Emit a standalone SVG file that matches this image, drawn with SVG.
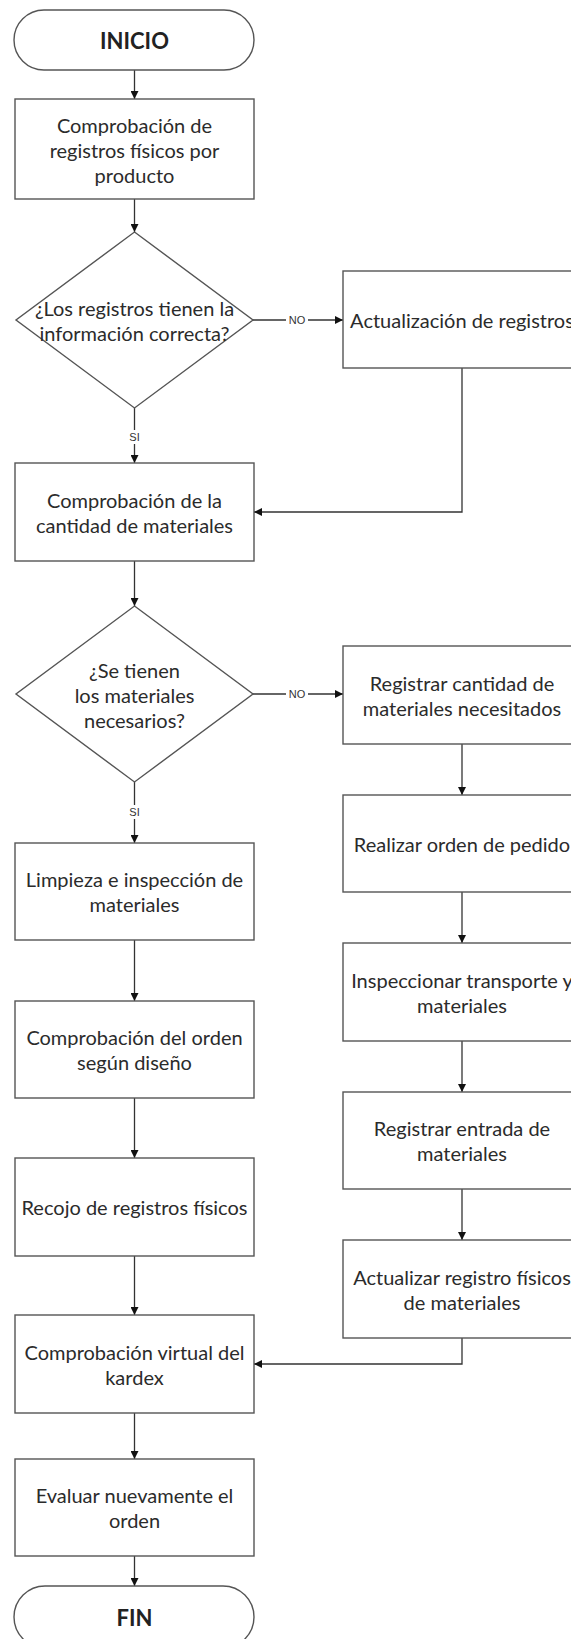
<svg xmlns="http://www.w3.org/2000/svg" width="571" height="1639" viewBox="0 0 571 1639">
<style>
.shape{fill:#fff;stroke:#555;stroke-width:1.4}
.t{font-family:Lato,"Liberation Sans",sans-serif;font-size:20px;fill:#2b2b2b;text-anchor:middle;dominant-baseline:central}
.tb{font-family:Lato,"Liberation Sans",sans-serif;font-size:22px;font-weight:bold;fill:#222;text-anchor:middle;dominant-baseline:central}
.lbl{font-family:"Liberation Sans",sans-serif;font-size:11px;fill:#333;text-anchor:middle;dominant-baseline:central}
.c{fill:none;stroke:#333;stroke-width:1.3}
</style>
<defs>
<marker id="ah" viewBox="0 0 10 10" refX="10" refY="5" markerWidth="8" markerHeight="8" markerUnits="userSpaceOnUse" orient="auto">
<path d="M0,0 L10,5 L0,10 z" fill="#111"/>
</marker>
</defs>
<rect width="571" height="1639" fill="#fff"/>
<g id="connectors">
<path class="c" d="M134.5,70 V99" marker-end="url(#ah)"/>
<path class="c" d="M134.5,199 V232" marker-end="url(#ah)"/>
<path class="c" d="M253,320 H343" marker-end="url(#ah)"/>
<path class="c" d="M134.5,408 V463" marker-end="url(#ah)"/>
<path class="c" d="M462,368 V512 H254" marker-end="url(#ah)"/>
<path class="c" d="M134.5,561 V606" marker-end="url(#ah)"/>
<path class="c" d="M253,694 H343" marker-end="url(#ah)"/>
<path class="c" d="M134.5,782 V843" marker-end="url(#ah)"/>
<path class="c" d="M462,744 V795" marker-end="url(#ah)"/>
<path class="c" d="M462,892 V943" marker-end="url(#ah)"/>
<path class="c" d="M462,1041 V1092" marker-end="url(#ah)"/>
<path class="c" d="M462,1189 V1240" marker-end="url(#ah)"/>
<path class="c" d="M462,1338 V1364 H254" marker-end="url(#ah)"/>
<path class="c" d="M134.5,940 V1001" marker-end="url(#ah)"/>
<path class="c" d="M134.5,1098 V1158" marker-end="url(#ah)"/>
<path class="c" d="M134.5,1256 V1315" marker-end="url(#ah)"/>
<path class="c" d="M134.5,1413 V1459" marker-end="url(#ah)"/>
<path class="c" d="M134.5,1556 V1586" marker-end="url(#ah)"/>
<rect x="286" y="313" width="22" height="14" fill="#fff"/>
<text class="lbl" x="297" y="320">NO</text>
<rect x="286" y="687" width="22" height="14" fill="#fff"/>
<text class="lbl" x="297" y="694">NO</text>
<rect x="126" y="430" width="17" height="14" fill="#fff"/>
<text class="lbl" x="134.5" y="437">SI</text>
<rect x="126" y="805" width="17" height="14" fill="#fff"/>
<text class="lbl" x="134.5" y="812">SI</text>
</g>
<g id="inicio">
<rect class="shape" x="14" y="10" width="240" height="60" rx="30"/>
<text class="tb" x="134.5" y="40">INICIO</text>
</g>
<g id="comprobacion-registros">
<rect class="shape" x="15" y="99" width="239" height="100"/>
<text class="t" x="134.5" y="125">Comprobación de</text>
<text class="t" x="134.5" y="150">registros físicos por</text>
<text class="t" x="134.5" y="175">producto</text>
</g>
<g id="decision-registros">
<polygon class="shape" points="134.5,232 253,320 134.5,408 16,320"/>
<text class="t" x="134.5" y="308">¿Los registros tienen la</text>
<text class="t" x="134.5" y="333">información correcta?</text>
</g>
<g id="actualizacion-registros">
<rect class="shape" x="343" y="271" width="240" height="97"/>
<text class="t" x="462" y="320">Actualización de registros</text>
</g>
<g id="comprobacion-cantidad">
<rect class="shape" x="15" y="463" width="239" height="98"/>
<text class="t" x="134.5" y="500">Comprobación de la</text>
<text class="t" x="134.5" y="525">cantidad de materiales</text>
</g>
<g id="decision-materiales">
<polygon class="shape" points="134.5,606 253,694 134.5,782 16,694"/>
<text class="t" x="134.5" y="670">¿Se tienen</text>
<text class="t" x="134.5" y="695">los materiales</text>
<text class="t" x="134.5" y="720">necesarios?</text>
</g>
<g id="registrar-cantidad">
<rect class="shape" x="343" y="646" width="240" height="98"/>
<text class="t" x="462" y="683">Registrar cantidad de</text>
<text class="t" x="462" y="708">materiales necesitados</text>
</g>
<g id="realizar-orden">
<rect class="shape" x="343" y="795" width="240" height="97"/>
<text class="t" x="462" y="844">Realizar orden de pedido</text>
</g>
<g id="inspeccionar">
<rect class="shape" x="343" y="943" width="240" height="98"/>
<text class="t" x="462" y="980">Inspeccionar transporte y</text>
<text class="t" x="462" y="1005">materiales</text>
</g>
<g id="registrar-entrada">
<rect class="shape" x="343" y="1092" width="240" height="97"/>
<text class="t" x="462" y="1128">Registrar entrada de</text>
<text class="t" x="462" y="1153">materiales</text>
</g>
<g id="actualizar-registro">
<rect class="shape" x="343" y="1240" width="240" height="98"/>
<text class="t" x="462" y="1277">Actualizar registro físicos</text>
<text class="t" x="462" y="1302">de materiales</text>
</g>
<g id="limpieza">
<rect class="shape" x="15" y="843" width="239" height="97"/>
<text class="t" x="134.5" y="879">Limpieza e inspección de</text>
<text class="t" x="134.5" y="904">materiales</text>
</g>
<g id="comprobacion-orden">
<rect class="shape" x="15" y="1001" width="239" height="97"/>
<text class="t" x="134.5" y="1037">Comprobación del orden</text>
<text class="t" x="134.5" y="1062">según diseño</text>
</g>
<g id="recojo">
<rect class="shape" x="15" y="1158" width="239" height="98"/>
<text class="t" x="134.5" y="1207">Recojo de registros físicos</text>
</g>
<g id="comprobacion-virtual">
<rect class="shape" x="15" y="1315" width="239" height="98"/>
<text class="t" x="134.5" y="1352">Comprobación virtual del</text>
<text class="t" x="134.5" y="1377">kardex</text>
</g>
<g id="evaluar">
<rect class="shape" x="15" y="1459" width="239" height="97"/>
<text class="t" x="134.5" y="1495">Evaluar nuevamente el</text>
<text class="t" x="134.5" y="1520">orden</text>
</g>
<g id="fin">
<rect class="shape" x="14" y="1586" width="240" height="62" rx="31"/>
<text class="tb" x="134.5" y="1617">FIN</text>
</g>
</svg>
